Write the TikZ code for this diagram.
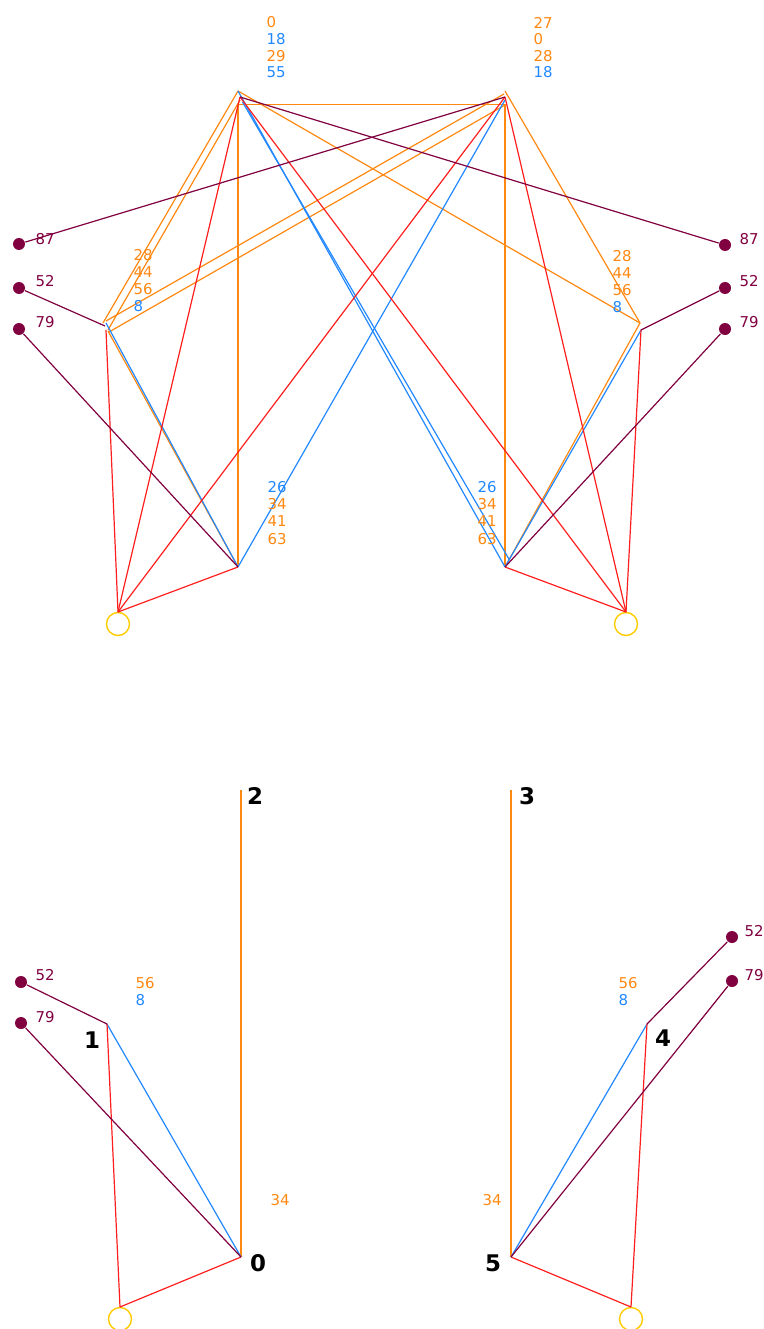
\documentclass[tikz,border=0pt]{standalone}
\usepackage{fontspec}
\setmainfont{DejaVu Sans}
\usetikzlibrary{calc}
\definecolor{corg}{RGB}{255,136,17}
\definecolor{cblu}{RGB}{34,136,255}
\definecolor{cred}{RGB}{255,30,30}
\definecolor{cmar}{RGB}{128,0,64}
\definecolor{cyel}{RGB}{255,204,0}
\begin{document}
\begin{tikzpicture}[x=1bp,y=-1bp,line width=1.2bp,
  org/.style={draw=corg}, blu/.style={draw=cblu}, rd/.style={draw=cred}, mar/.style={draw=cmar},
  vert/.style={line width=1.5bp},
  dot/.style={circle,fill=cmar,inner sep=0,minimum size=12bp},
  ring/.style={circle,draw=cyel,line width=1.4bp,inner sep=0,minimum size=23bp},
  lab/.style={anchor=west,inner sep=0,font=\fontsize{15}{17}\selectfont},
  lo/.style={lab,text=corg}, lb/.style={lab,text=cblu}, lm/.style={lab,text=cmar},
  big/.style={inner sep=0,font=\fontsize{23}{26}\selectfont\bfseries}]
\useasboundingbox (0,0) rectangle (763,1329);
% ---------- top graph ----------
\coordinate (A) at (238,91);
\coordinate (B) at (505,91);
\coordinate (C) at (105,326);
\coordinate (D) at (640,323);
\coordinate (E) at (238,567);
\coordinate (F) at (505,567);
\coordinate (G) at (118,612);
\coordinate (H) at (626,612);
\node[ring] (Gc) at (118,624) {};
\node[ring] (Hc) at (626,624) {};
\node[dot] (dL87) at (19,244) {};
\node[dot] (dL52) at (19,288) {};
\node[dot] (dL79) at (19,329) {};
\node[dot] (dR87) at (725,245) {};
\node[dot] (dR52) at (725,288) {};
\node[dot] (dR79) at (725,329) {};
% orange
\draw[org] ($(A)+(0,13.5)$) -- ($(B)+(0,13.5)$);
\draw[org,vert] ($(A)+(0,13)$) -- (E);
\draw[org,vert] ($(B)+(0,13)$) -- (F);
\draw[org] (A) -- ($(C)+(-2,-3)$);
\draw[org] ($(A)+(2,9)$) -- ($(C)+(3,4)$);
\draw[org] ($(B)+(-1,3)$) -- ($(C)+(1,-5)$);
\draw[org] ($(B)+(0,14)$) -- ($(C)+(4,6)$);
\draw[org] (A) -- (D);
\draw[org] (B) -- (D);
\draw[org] ($(C)+(3,5)$) -- (E);
\draw[org] (D) -- (F);
% blue
\draw[blu] (A) -- (F);
\draw[blu] ($(A)+(4.5,11)$) -- ($(F)+(4.5,-7)$);
\draw[blu] ($(B)+(0,9)$) -- (E);
\draw[blu] ($(C)+(1,-3)$) -- (E);
\draw[blu] ($(D)+(1,7)$) -- (F);
% red
\draw[rd] ($(A)+(2,6)$) -- (G);
\draw[rd] ($(A)+(2,6)$) -- (H);
\draw[rd] ($(B)+(0,6)$) -- (G);
\draw[rd] ($(B)+(0,6)$) -- (H);
\draw[rd] ($(C)+(1,4)$) -- (G);
\draw[rd] ($(D)+(1,7)$) -- (H);
\draw[rd] (E) -- (G);
\draw[rd] (F) -- (H);
% maroon
\draw[mar] ($(A)+(2,6)$) -- (dR87);
\draw[mar] ($(B)+(0,6)$) -- (dL87);
\draw[mar] (dL52) -- (C);
\draw[mar] (dL79) -- (E);
\draw[mar] (dR52) -- ($(D)+(1,7)$);
\draw[mar] (dR79) -- (F);
% labels top
\node[lo] (tA1) at (266,22.5) {0};
\node[lb] (tA2) at (266,39) {18};
\node[lo] (tA3) at (266,56) {29};
\node[lb] (tA4) at (266,72.5) {55};
\node[lo] (tB1) at (533,22.5) {27};
\node[lo] (tB2) at (533,39) {0};
\node[lo] (tB3) at (533,56) {28};
\node[lb] (tB4) at (533,72.5) {18};
\node[lo] (tC1) at (133,255) {28};
\node[lo] (tC2) at (133,272) {44};
\node[lo] (tC3) at (133,289) {56};
\node[lb] (tC4) at (133,306) {8};
\node[lo] (tD1) at (612,256) {28};
\node[lo] (tD2) at (612,273) {44};
\node[lo] (tD3) at (612,290) {56};
\node[lb] (tD4) at (612,307) {8};
\node[lb] (tE1) at (267,487.5) {26};
\node[lo] (tE2) at (267,504) {34};
\node[lo] (tE3) at (267,521) {41};
\node[lo] (tE4) at (267,539) {63};
\node[lb] (tF1) at (477,487.5) {26};
\node[lo] (tF2) at (477,504) {34};
\node[lo] (tF3) at (477,521) {41};
\node[lo] (tF4) at (477,539) {63};
\node[lm] (tL87) at (35,239) {87};
\node[lm] (tL52) at (35,281) {52};
\node[lm] (tL79) at (35,322) {79};
\node[lm] (tR87) at (739,239) {87};
\node[lm] (tR52) at (739,281) {52};
\node[lm] (tR79) at (739,322) {79};
% ---------- bottom graph ----------
\coordinate (n2) at (241,790);
\coordinate (n3) at (511,790);
\coordinate (n1) at (107,1024);
\coordinate (n4) at (647,1024);
\coordinate (n0) at (241,1257);
\coordinate (n5) at (511,1257);
\coordinate (gl) at (120,1307);
\coordinate (gr) at (631,1307);
\node[ring] (glc) at (120,1319) {};
\node[ring] (grc) at (631,1319) {};
\node[dot] (bL52) at (21,982) {};
\node[dot] (bL79) at (21,1023) {};
\node[dot] (bR52) at (732,937) {};
\node[dot] (bR79) at (732,981) {};
\draw[org,vert] (n2) -- (n0);
\draw[org,vert] (n3) -- (n5);
\draw[blu] (n1) -- (n0);
\draw[blu] (n4) -- (n5);
\draw[rd] (n1) -- (gl);
\draw[rd] (n0) -- (gl);
\draw[rd] (n4) -- (gr);
\draw[rd] (n5) -- (gr);
\draw[mar] (bL52) -- (n1);
\draw[mar] (bL79) -- (n0);
\draw[mar] (bR52) -- (n4);
\draw[mar] (bR79) -- (n5);
\node[lm] (uL52) at (35,975) {52};
\node[lm] (uL79) at (35,1017) {79};
\node[lm] (uR52) at (744,931) {52};
\node[lm] (uR79) at (744,975) {79};
\node[lo] (u1a) at (135,983) {56};
\node[lb] (u1b) at (135,1000) {8};
\node[lo] (u4a) at (618,983) {56};
\node[lb] (u4b) at (618,1000) {8};
\node[lo] (u0a) at (270,1200) {34};
\node[lo] (u5a) at (482,1200) {34};
\node[big] (k2) at (255,796) {2};
\node[big] (k3) at (527,796) {3};
\node[big] (k1) at (92,1040) {1};
\node[big] (k4) at (663,1038) {4};
\node[big] (k0) at (258,1263) {0};
\node[big] (k5) at (493,1263) {5};
\end{tikzpicture}
\end{document}
